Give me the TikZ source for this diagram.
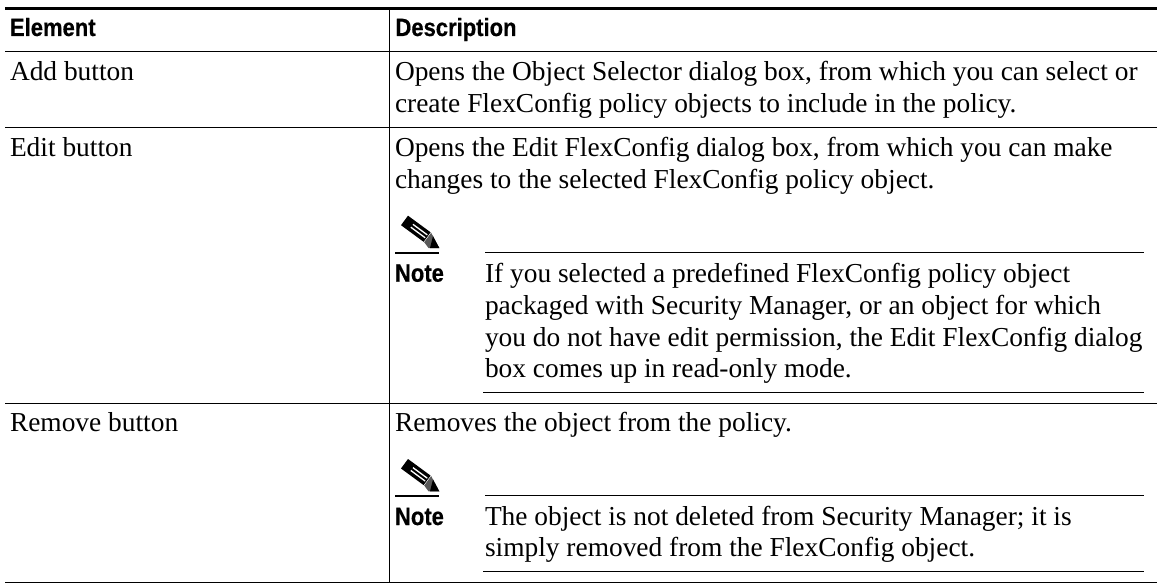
\documentclass[tikz,border=0pt]{standalone}
\usepackage{fontspec}
\setmainfont{Liberation Serif}
\newfontfamily\headfont[FakeStretch=0.88,BoldFeatures={FakeStretch=0.88,FakeBold=0.5}]{Liberation Sans}
\tikzset{
  x=1pt,y=-1pt,
  body/.style={anchor=base west,inner sep=0pt,outer sep=0pt,font=\fontsize{27.4}{27.4}\selectfont},
  head/.style={anchor=base west,inner sep=0pt,outer sep=0pt,font=\headfont\bfseries\fontsize{25}{25}\selectfont},
  rule/.style={line width=1pt,black},
  thickrule/.style={line width=1.8pt,black},
  pencilpic/.pic={
    \fill[black] (7,0) -- (29.6,16.6) -- (22.6,26.1) -- (0,9.5) -- cycle;
    \fill[white] (12.31,8.07) -- (26.71,18.69) -- (25.93,19.75) -- (11.53,9.13) -- cycle;
    \fill[white] (10.19,10.95) -- (24.59,21.57) -- (23.81,22.63) -- (9.41,12.01) -- cycle;
    \fill[black!65] (30.2,17.1) -- (38.3,32.3) -- (27.5,32.3) -- (23.2,26.5) -- cycle;
    \fill[black] (32,20.5) -- (38.3,32.3) -- (29,32.3) -- cycle;
  }
}
\begin{document}
\begin{tikzpicture}
\useasboundingbox (0,0) rectangle (1157,583);
\fill[white] (0,0) rectangle (1157,583);
\coordinate (tl) at (5,8.5); \coordinate (tr) at (1157,8.5);
\coordinate (h1) at (5,52); \coordinate (h2) at (1157,52);
\coordinate (r1) at (5,128); \coordinate (r2) at (1157,128);
\coordinate (s1) at (5,403.5); \coordinate (s2) at (1157,403.5);
\coordinate (b1) at (5,582); \coordinate (b2) at (1157,582);
\coordinate (v1) at (389,8.5); \coordinate (v2) at (389,582);
\coordinate (p1a) at (395.3,252.6); \coordinate (p1b) at (439.3,252.6);
\coordinate (q1a) at (485,252.4); \coordinate (q1b) at (1144,252.4);
\coordinate (q2a) at (483,392.3); \coordinate (q2b) at (1144,392.3);
\coordinate (p2a) at (395.3,496); \coordinate (p2b) at (439.3,496);
\coordinate (q3a) at (485,495.8); \coordinate (q3b) at (1144,495.8);
\coordinate (q4a) at (483,571.3); \coordinate (q4b) at (1144,571.3);
\draw[line width=2.8pt] (tl) -- (tr);
\draw[rule] (h1) -- (h2);
\draw[rule] (r1) -- (r2);
\draw[rule] (s1) -- (s2);
\draw[rule] (b1) -- (b2);
\draw[rule] (v1) -- (v2);
\draw[thickrule] (p1a) -- (p1b);
\draw[thickrule] (p2a) -- (p2b);
\draw[rule] (q1a) -- (q1b);
\draw[rule] (q2a) -- (q2b);
\draw[rule] (q3a) -- (q3b);
\draw[rule] (q4a) -- (q4b);
\pic at (401,215.7) {pencilpic};
\pic at (401,459) {pencilpic};
\node[head] (th1) at (10,36) {Element};
\node[head] (th2) at (395.5,36) {Description};
\node[body] (a1) at (10,81) {Add button};
\node[body] (a2) at (395,81) {Opens the Object Selector dialog box, from which you can select or};
\node[body] (a3) at (395,112.7) {create FlexConfig policy objects to include in the policy.};
\node[body] (e1) at (10,156.7) {Edit button};
\node[body] (e2) at (395,156.7) {Opens the Edit FlexConfig dialog box, from which you can make};
\node[body] (e3) at (395,188.4) {changes to the selected FlexConfig policy object.};
\node[head] (n1) at (395,281.7) {Note};
\node[body] (n1a) at (485,282.7) {If you selected a predefined FlexConfig policy object};
\node[body] (n1b) at (485,314.4) {packaged with Security Manager, or an object for which};
\node[body] (n1c) at (485,346.1) {you do not have edit permission, the Edit FlexConfig dialog};
\node[body] (n1d) at (485,377.8) {box comes up in read-only mode.};
\node[body] (r1t) at (10,431.7) {Remove button};
\node[body] (r2t) at (395,431.7) {Removes the object from the policy.};
\node[head] (n2) at (395,525) {Note};
\node[body] (n2a) at (485,525) {The object is not deleted from Security Manager; it is};
\node[body] (n2b) at (485,556.7) {simply removed from the FlexConfig object.};
\end{tikzpicture}
\end{document}
